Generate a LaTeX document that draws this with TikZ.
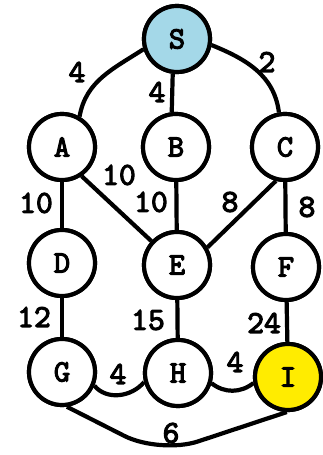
\documentclass[tikz,border=0pt]{standalone}
\usepackage{fontspec}
\newfontfamily\typefont{lmmono10-regular}[Extension=.otf, FakeBold=3.5]
\definecolor{startblue}{RGB}{164,216,232}
\definecolor{goalyellow}{RGB}{255,236,0}
\begin{document}
\begin{tikzpicture}[x=1pt,y=1pt,
  vertex/.style={circle, draw=black, line width=4.2pt, fill=white,
    minimum size=66pt, inner sep=0pt,
    font=\typefont\fontsize{31}{31}\selectfont},
  edge/.style={line width=4.2pt, black},
  weight/.style={inner sep=0pt, font=\typefont\fontsize{32}{32}\selectfont}]
\useasboundingbox (0,0) rectangle (322,455);

% vertex centres
\coordinate (S) at (177,416);
\coordinate (A) at (62,308);
\coordinate (B) at (176,308);
\coordinate (C) at (285,308);
\coordinate (D) at (62,192);
\coordinate (E) at (177,190);
\coordinate (F) at (286,188);
\coordinate (G) at (62,83);
\coordinate (H) at (178,82);
\coordinate (I) at (288,78);
\coordinate (low) at (160,1);

% vertices (named, used as connector ends)
\node[vertex, fill=startblue] (nS) at (S) {S};
\node[vertex] (nA) at (A) {A};
\node[vertex] (nB) at (B) {B};
\node[vertex] (nC) at (C) {C};
\node[vertex] (nD) at (D) {D};
\node[vertex] (nE) at (E) {E};
\node[vertex] (nF) at (F) {F};
\node[vertex] (nG) at (G) {G};
\node[vertex] (nH) at (H) {H};
\node[vertex, fill=goalyellow] (nI) at (I) {I};

% connectors
\draw[edge] (nS.197) to[out=213, in=80] (nA.60);
\draw[edge] (nS.-97) -- (nB.97);
\draw[edge] (nS.-10) to[out=-22, in=97] (nC.100);
\draw[edge] (nA) -- (nD);
\draw[edge] (nA.-56) -- (nE.137);
\draw[edge] (nB) -- (nE);
\draw[edge] (nC.-105) -- (nE.30);
\draw[edge] (nC) -- (nF);
\draw[edge] (nD) -- (nG);
\draw[edge] (nE) -- (nH);
\draw[edge] (nF) -- (nI);
\draw[edge] (nG.-23) to[out=-50, in=-130] (nH.195);
\draw[edge] (nH.-17) to[out=-38, in=-142] (nI.190);
\draw[edge, rounded corners=40pt] (nG.-82) -- (low) -- (nI.-92);

% circles drawn again over the connector ends
\node[vertex, fill=startblue] at (S) {S};
\node[vertex] at (A) {A};
\node[vertex] at (B) {B};
\node[vertex] at (C) {C};
\node[vertex] at (D) {D};
\node[vertex] at (E) {E};
\node[vertex] at (F) {F};
\node[vertex] at (G) {G};
\node[vertex] at (H) {H};
\node[vertex, fill=goalyellow] at (I) {I};

% weights
\node[weight] (wSA) at (77,383) {4};
\node[weight] (wSB) at (157,363) {4};
\node[weight] (wSC) at (267,393) {2};
\node[weight] (wAD) at (36,252) {10};
\node[weight] (wAE) at (119,280) {10};
\node[weight] (wBE) at (151,253) {10};
\node[weight] (wCE) at (230,253) {8};
\node[weight] (wCF) at (307,248) {8};
\node[weight] (wDG) at (34,138) {12};
\node[weight] (wEH) at (148,135) {15};
\node[weight] (wFI) at (264,132) {24};
\node[weight] (wGH) at (118,81) {4};
\node[weight] (wHI) at (235,93) {4};
\node[weight] (wGI) at (171,22) {6};
\end{tikzpicture}
\end{document}
